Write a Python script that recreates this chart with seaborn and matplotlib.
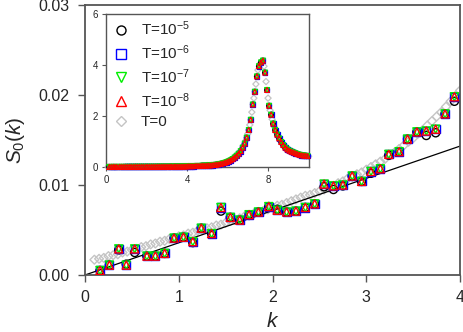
import numpy as np
import matplotlib
matplotlib.use("Agg")
import matplotlib.pyplot as plt
from matplotlib.lines import Line2D
import seaborn as sns

# main panel, T != 0 (k and S0)
k_main = [0.16, 0.26, 0.36, 0.44, 0.53, 0.66, 0.75, 0.85, 0.95, 1.05, 1.15, 1.24, 1.35,
          1.45, 1.55, 1.65, 1.75, 1.85, 1.96, 2.05, 2.15, 2.25, 2.35, 2.45, 2.55, 2.65,
          2.75, 2.85, 2.95, 3.05, 3.15, 3.24, 3.35, 3.44, 3.54, 3.64, 3.74, 3.84, 3.94]
s_t8 = [0.0005, 0.0011, 0.0029, 0.0011, 0.0029, 0.0021, 0.0021, 0.0024, 0.0041, 0.0042,
        0.0037, 0.0052, 0.0046, 0.0075, 0.0064, 0.0061, 0.0067, 0.0070, 0.0076, 0.0072,
        0.0070, 0.0071, 0.0075, 0.0079, 0.0101, 0.0099, 0.0100, 0.0110, 0.0104, 0.0115,
        0.0118, 0.0134, 0.0137, 0.0151, 0.0159, 0.0160, 0.0162, 0.0179, 0.0198]
s_t7 = s_t8
s_t6 = s_t8
s_t5 = [0.0005, 0.0011, 0.0028, 0.0012, 0.0025, 0.0021, 0.0021, 0.0024, 0.0041, 0.0042,
        0.0036, 0.0052, 0.0046, 0.0071, 0.0064, 0.0061, 0.0067, 0.0070, 0.0076, 0.0073,
        0.0070, 0.0071, 0.0075, 0.0079, 0.0098, 0.0095, 0.0099, 0.0110, 0.0104, 0.0113,
        0.0118, 0.0133, 0.0137, 0.0151, 0.0159, 0.0155, 0.0158, 0.0179, 0.0193]

# main panel, T = 0
k_zero = [0.10, 0.15, 0.20, 0.25, 0.30, 0.35, 0.40, 0.45, 0.50, 0.55, 0.60, 0.65, 0.70,
          0.75, 0.80, 0.85, 0.90, 0.95, 1.00, 1.05, 1.10, 1.15, 1.20, 1.25, 1.30, 1.35,
          1.40, 1.45, 1.50, 1.55, 1.60, 1.65, 1.70, 1.75, 1.80, 1.85, 1.90, 1.95, 2.00,
          2.05, 2.10, 2.15, 2.20, 2.25, 2.30, 2.35, 2.40, 2.45, 2.50, 2.55, 2.60, 2.65,
          2.70, 2.75, 2.80, 2.85, 2.90, 2.95, 3.00, 3.05, 3.10, 3.15, 3.20, 3.25, 3.30,
          3.35, 3.40, 3.45, 3.50, 3.55, 3.60, 3.65, 3.70, 3.75, 3.80, 3.85, 3.90, 3.95, 4.00]
s_zero = [0.0017, 0.0018, 0.0019, 0.0021, 0.0022, 0.0023, 0.0025, 0.0026, 0.0028, 0.0029,
          0.0031, 0.0032, 0.0034, 0.0035, 0.0037, 0.0038, 0.0040, 0.0041, 0.0043, 0.0044,
          0.0046, 0.0047, 0.0049, 0.0050, 0.0052, 0.0053, 0.0055, 0.0056, 0.0058, 0.0060,
          0.0061, 0.0063, 0.0065, 0.0066, 0.0068, 0.0070, 0.0071, 0.0073, 0.0075, 0.0077,
          0.0078, 0.0080, 0.0082, 0.0084, 0.0086, 0.0088, 0.0089, 0.0091, 0.0093, 0.0095,
          0.0097, 0.0099, 0.0102, 0.0104, 0.0107, 0.0109, 0.0112, 0.0114, 0.0117, 0.0120,
          0.0123, 0.0126, 0.0129, 0.0133, 0.0136, 0.0140, 0.0144, 0.0148, 0.0152, 0.0157,
          0.0161, 0.0166, 0.0171, 0.0176, 0.0181, 0.0187, 0.0193, 0.0199, 0.0205]

# inset continuation beyond k = 4 (all finite T fall on top of each other)
k_ext = [4.04, 4.14, 4.24, 4.34, 4.44, 4.54, 4.64, 4.74, 4.84, 4.94, 5.04, 5.14, 5.24,
         5.34, 5.44, 5.54, 5.64, 5.74, 5.84, 5.94, 6.04, 6.14, 6.24, 6.34, 6.44, 6.54,
         6.64, 6.74, 6.84, 6.94, 7.04, 7.14, 7.24, 7.34, 7.44, 7.54, 7.64, 7.74, 7.84,
         7.94, 8.04, 8.14, 8.24, 8.34, 8.44, 8.54, 8.64, 8.74, 8.84, 8.94, 9.04, 9.14,
         9.24, 9.34, 9.44, 9.54, 9.64, 9.74, 9.84, 9.94]
s_ext = [0.03, 0.03, 0.03, 0.03, 0.04, 0.04, 0.04, 0.05, 0.05, 0.05, 0.06, 0.06, 0.07,
         0.08, 0.09, 0.10, 0.12, 0.14, 0.16, 0.19, 0.22, 0.26, 0.31, 0.37, 0.44, 0.52,
         0.62, 0.76, 0.92, 1.15, 1.45, 1.85, 2.45, 2.95, 3.55, 3.95, 4.10, 4.17, 3.70,
         3.02, 2.40, 2.05, 1.70, 1.45, 1.27, 1.12, 0.98, 0.86, 0.76, 0.69, 0.64, 0.60,
         0.57, 0.54, 0.51, 0.48, 0.46, 0.45, 0.44, 0.43]
k_zero_ext = [4.09, 4.19, 4.29, 4.39, 4.49, 4.59, 4.69, 4.79, 4.89, 4.99, 5.09, 5.19, 5.29,
              5.39, 5.49, 5.59, 5.69, 5.79, 5.89, 5.99, 6.09, 6.19, 6.29, 6.39, 6.49, 6.59,
              6.69, 6.79, 6.89, 6.99, 7.09, 7.19, 7.29, 7.39, 7.49, 7.59, 7.69, 7.79, 7.89,
              7.99, 8.09, 8.19, 8.29, 8.39, 8.49, 8.59, 8.69, 8.79, 8.89, 8.99, 9.09, 9.19,
              9.29, 9.39, 9.49, 9.59, 9.69, 9.79, 9.89, 9.99]
s_zero_ext = [0.03, 0.03, 0.03, 0.04, 0.04, 0.04, 0.05, 0.05, 0.05, 0.06, 0.06, 0.07, 0.08,
              0.08, 0.10, 0.11, 0.13, 0.15, 0.18, 0.21, 0.24, 0.29, 0.34, 0.41, 0.48, 0.57,
              0.69, 0.84, 1.03, 1.30, 1.65, 2.15, 2.70, 3.25, 3.80, 4.05, 4.15, 3.95, 3.35,
              2.70, 2.22, 1.87, 1.58, 1.36, 1.19, 1.05, 0.92, 0.81, 0.72, 0.66, 0.62, 0.58,
              0.55, 0.52, 0.49, 0.47, 0.45, 0.44, 0.43, 0.42]

fit_slope = 0.00358

labels = ["T=10$^{\\mathregular{-5}}$", "T=10$^{\\mathregular{-6}}$",
          "T=10$^{\\mathregular{-7}}$", "T=10$^{\\mathregular{-8}}$", "T=0"]

sns.set_style("ticks")
plt.rcParams["font.family"] = ["Liberation Sans", "DejaVu Sans"]
plt.rcParams["mathtext.fontset"] = "custom"
plt.rcParams["mathtext.rm"] = "Liberation Sans"
plt.rcParams["mathtext.it"] = "Liberation Sans:italic"

spine_c = "#555555"
series = [("o", "black"), ("s", "blue"), ("v", "#00ee00"), ("^", "red")]

fig = plt.figure(figsize=(4.63, 3.32), dpi=100)
ax = fig.add_axes([0.1836, 0.1717, 0.81, 0.8133])

# T = 0 first, finite T on top
sns.scatterplot(x=k_zero, y=s_zero, marker="D", s=20, facecolor="none",
                edgecolor="#c4c4c4", linewidth=1, ax=ax, zorder=2)
for (m, c), s in zip(series, [s_t5, s_t6, s_t7, s_t8]):
    sns.scatterplot(x=k_main, y=s, marker=m, s=34, facecolor="none",
                    edgecolor=c, linewidth=1, ax=ax, zorder=3)
kk = np.array([0, 4])
ax.plot(kk, fit_slope * kk, color="black", lw=0.9, zorder=2)

ax.set_xlim(0, 4)
ax.set_ylim(0, 0.03)
ax.set_xticks([0, 1, 2, 3, 4])
ax.set_yticks([0, 0.01, 0.02, 0.03])
ax.set_yticklabels(["0.00", "0.01", "0.02", "0.03"])
ax.tick_params(labelsize=11.5, length=5, width=1, color=spine_c, pad=6)
for sp in ax.spines.values():
    sp.set_color(spine_c)
    sp.set_linewidth(1.3)
ax.set_xlabel("$\\mathit{k}$", fontsize=15, labelpad=5)
ax.set_ylabel("$\\mathit{S_0(k)}$", fontsize=15, labelpad=8)

# inset
ins = fig.add_axes([0.229, 0.497, 0.438, 0.461])
ins.set_facecolor("white")
sns.scatterplot(x=k_zero + k_zero_ext, y=s_zero + s_zero_ext,
                marker="D", s=10, facecolor="none", edgecolor="#c4c4c4",
                linewidth=0.9, ax=ins, zorder=2, clip_on=False)
for (m, c), s in zip(series, [s_t5, s_t6, s_t7, s_t8]):
    sns.scatterplot(x=k_main + k_ext, y=s + s_ext, marker=m, s=12, facecolor="none",
                    edgecolor=c, linewidth=0.9, ax=ins, zorder=3, clip_on=False)
ins.set_xlim(0, 10)
ins.set_ylim(0, 6)
ins.set_xticks([0, 4, 8])
ins.set_yticks([0, 2, 4, 6])
ins.tick_params(labelsize=7, length=3, width=0.8, color=spine_c, pad=3)
for sp in ins.spines.values():
    sp.set_color(spine_c)
    sp.set_linewidth(1.0)

handles = [Line2D([], [], ls="", marker=m, mfc="none", mec=c, ms=6.5, mew=1)
           for m, c in series]
handles.append(Line2D([], [], ls="", marker="D", mfc="none", mec="#c4c4c4", ms=5.5, mew=1))
ins.legend(handles, labels, loc="upper left", bbox_to_anchor=(0.035, 0.965),
           frameon=False, fontsize=11, handlelength=1.0, handletextpad=0.8,
           labelspacing=0.35, borderpad=0, borderaxespad=0)

fig.savefig("out.png", dpi=100)
